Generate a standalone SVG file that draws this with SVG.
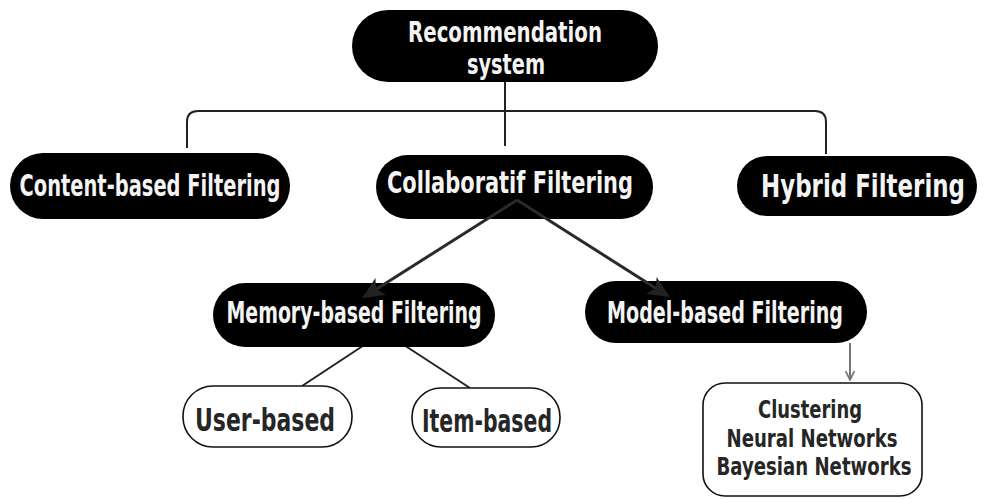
<svg xmlns="http://www.w3.org/2000/svg" width="985" height="499" viewBox="0 0 985 499">
  <defs>
    <marker id="tri" viewBox="0 0 10 10" refX="9" refY="5" markerWidth="24" markerHeight="22" markerUnits="userSpaceOnUse" orient="auto">
      <path d="M0,0.5 L10,5 L0,9.5 L2.5,5 z" fill="#222"/>
    </marker>
    <marker id="vee" viewBox="0 0 10 10" refX="9" refY="5" markerWidth="11" markerHeight="12" markerUnits="userSpaceOnUse" orient="auto">
      <path d="M1,1 L9,5 L1,9" fill="none" stroke="#777" stroke-width="1.6"/>
    </marker>
    <style>
      .dark { fill: #000; }
      .light { fill: #fff; stroke: #111; stroke-width: 1.6; }
      .tw { fill: #f4f4f4; font-family: "DejaVu Sans", "Liberation Sans", sans-serif; font-weight: bold; font-stretch: condensed; text-anchor: middle; }
      .tb { fill: #262626; font-family: "DejaVu Sans", "Liberation Sans", sans-serif; font-weight: bold; font-stretch: condensed; text-anchor: middle; }
      .ln { fill: none; stroke: #222; stroke-width: 2; }
      .arr { fill: none; stroke: #2a2a2a; stroke-width: 3; }
      .gray { fill: none; stroke: #777; stroke-width: 2; }
    </style>
  </defs>
  <rect width="985" height="499" fill="#fff"/>

  <g id="connectors">
    <path class="ln" d="M187,148 V122 Q187,111 198,111 H815 Q826,111 826,122 V154"/>
    <path class="ln" d="M505,82 V146"/>
    <path class="ln" d="M384,332 L302,386"/>
    <path class="ln" d="M384,332 L470,388"/>
  </g>

  <g id="n-root">
    <rect class="dark" x="352" y="10" width="306" height="72" rx="36"/>
    <text class="tw" x="505" y="42" font-size="28" textLength="194" lengthAdjust="spacingAndGlyphs">Recommendation</text>
    <text class="tw" x="506" y="74" font-size="28" textLength="78" lengthAdjust="spacingAndGlyphs">system</text>
  </g>

  <g id="n-content">
    <rect class="dark" x="10" y="153" width="280" height="66" rx="33"/>
    <text class="tw" x="150" y="196" font-size="30" textLength="261" lengthAdjust="spacingAndGlyphs">Content-based Filtering</text>
  </g>

  <g id="n-collab">
    <rect class="dark" x="376" y="155" width="277" height="64" rx="32"/>
    <text class="tw" x="510" y="193" font-size="31" textLength="246" lengthAdjust="spacingAndGlyphs">Collaboratif Filtering</text>
  </g>

  <g id="n-hybrid">
    <rect class="dark" x="737" y="156" width="240" height="60" rx="30"/>
    <text class="tw" transform="translate(863,197) scale(0.8,1)" x="0" y="0" font-size="32" textLength="255" lengthAdjust="spacingAndGlyphs">Hybrid Filtering</text>
  </g>

  <g id="n-memory">
    <rect class="dark" x="213" y="283" width="282" height="64" rx="32"/>
    <text class="tw" x="354" y="323" font-size="30" textLength="255" lengthAdjust="spacingAndGlyphs">Memory-based Filtering</text>
  </g>

  <g id="n-model">
    <rect class="dark" x="585" y="281" width="282" height="62" rx="31"/>
    <text class="tw" x="725" y="323" font-size="30" textLength="236" lengthAdjust="spacingAndGlyphs">Model-based Filtering</text>
  </g>

  <g id="arrows">
    <path class="arr" d="M517,200 L364,297" marker-end="url(#tri)"/>
    <path class="arr" d="M517,200 L668,296" marker-end="url(#tri)"/>
    <path class="gray" d="M850,343 V380" marker-end="url(#vee)"/>
  </g>

  <g id="n-user">
    <rect class="light" x="183" y="386" width="169" height="61" rx="30"/>
    <text class="tb" x="265" y="431" font-size="32" textLength="140" lengthAdjust="spacingAndGlyphs">User-based</text>
  </g>

  <g id="n-item">
    <rect class="light" x="412" y="388" width="148" height="59" rx="29"/>
    <text class="tb" x="487" y="432" font-size="32" textLength="130" lengthAdjust="spacingAndGlyphs">Item-based</text>
  </g>

  <g id="n-algos">
    <rect class="light" x="703" y="383" width="219" height="113" rx="22"/>
    <text class="tb" x="810" y="418" font-size="24" textLength="104" lengthAdjust="spacingAndGlyphs">Clustering</text>
    <text class="tb" x="812" y="447" font-size="24" textLength="171" lengthAdjust="spacingAndGlyphs">Neural Networks</text>
    <text class="tb" x="814" y="475" font-size="24" textLength="195" lengthAdjust="spacingAndGlyphs">Bayesian Networks</text>
  </g>
</svg>
